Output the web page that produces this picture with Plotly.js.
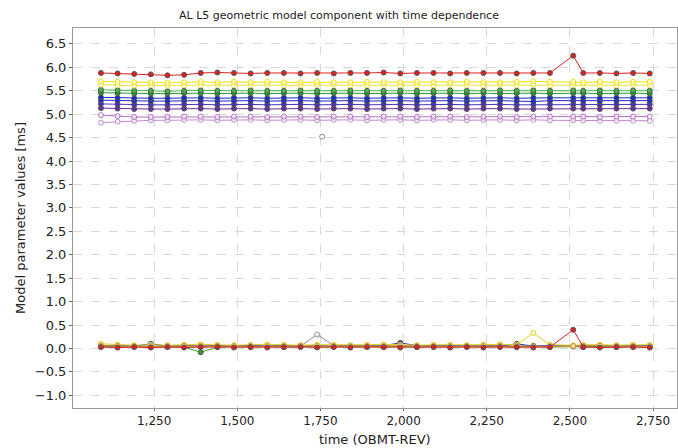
<!DOCTYPE html>
<html><head><meta charset="utf-8">
<script src="https://cdn.plot.ly/plotly-3.0.1.min.js"></script>
<style>body{margin:0;background:#fff}</style></head>
<body><div id="c" style="width:678px;height:448px"></div>
<script>
const times = [1090,1140,1190,1240,1290,1340,1390,1440,1490,1540,1590,1640,1690,1740,1790,1840,1890,1940,1990,2040,2090,2140,2190,2240,2290,2340,2390,2440,2510,2540,2590,2640,2690,2740];
const red1   = [5.88,5.87,5.86,5.85,5.83,5.84,5.88,5.89,5.88,5.87,5.88,5.88,5.87,5.88,5.87,5.88,5.88,5.89,5.87,5.88,5.88,5.87,5.88,5.88,5.88,5.87,5.88,5.88,6.25,5.88,5.88,5.87,5.88,5.87];
const yel1   = [5.70,5.69,5.68,5.68,5.67,5.68,5.69,5.68,5.69,5.68,5.69,5.68,5.68,5.69,5.68,5.68,5.69,5.68,5.68,5.69,5.68,5.68,5.69,5.68,5.68,5.69,5.70,5.69,5.69,5.68,5.69,5.68,5.69,5.69];
const yel2   = [5.63,5.62,5.61,5.62,5.61,5.62,5.62,5.63,5.62,5.62,5.63,5.62,5.62,5.62,5.63,5.62,5.62,5.63,5.62,5.62,5.62,5.63,5.62,5.62,5.63,5.62,5.63,5.62,5.62,5.63,5.62,5.62,5.63,5.62];
const grn1   = [5.52,5.51,5.50,5.50,5.49,5.50,5.51,5.50,5.50,5.51,5.50,5.50,5.51,5.50,5.50,5.51,5.50,5.50,5.51,5.50,5.50,5.51,5.50,5.50,5.51,5.50,5.51,5.50,5.51,5.50,5.51,5.50,5.51,5.50];
const grn2   = [5.46,5.45,5.44,5.44,5.44,5.45,5.45,5.44,5.45,5.45,5.44,5.45,5.45,5.44,5.45,5.45,5.44,5.45,5.45,5.44,5.45,5.45,5.44,5.45,5.44,5.45,5.45,5.44,5.45,5.45,5.44,5.45,5.45,5.44];
const blu1   = [5.36,5.35,5.34,5.34,5.34,5.35,5.35,5.34,5.35,5.35,5.34,5.35,5.35,5.34,5.35,5.35,5.34,5.35,5.35,5.34,5.35,5.35,5.34,5.35,5.35,5.34,5.35,5.35,5.35,5.35,5.34,5.35,5.35,5.35];
const blu2   = [5.30,5.29,5.28,5.28,5.28,5.29,5.29,5.28,5.29,5.29,5.28,5.29,5.29,5.28,5.29,5.29,5.28,5.29,5.29,5.28,5.29,5.29,5.28,5.29,5.29,5.28,5.27,5.29,5.29,5.29,5.28,5.29,5.29,5.29];
const ind1   = [5.22,5.21,5.20,5.20,5.20,5.21,5.21,5.20,5.21,5.21,5.20,5.21,5.21,5.20,5.21,5.21,5.20,5.21,5.21,5.20,5.21,5.21,5.20,5.21,5.21,5.20,5.20,5.21,5.21,5.21,5.20,5.21,5.21,5.21];
const pur1   = [5.13,5.12,5.11,5.11,5.11,5.12,5.12,5.11,5.12,5.12,5.11,5.12,5.12,5.11,5.12,5.12,5.11,5.12,5.12,5.11,5.12,5.12,5.11,5.12,5.12,5.11,5.11,5.12,5.12,5.12,5.11,5.12,5.12,5.12];
const vio1   = [4.98,4.96,4.94,4.94,4.94,4.95,4.95,4.94,4.95,4.95,4.94,4.95,4.95,4.94,4.95,4.95,4.94,4.95,4.95,4.94,4.95,4.95,4.94,4.95,4.95,4.94,4.95,4.95,4.95,4.95,4.94,4.95,4.95,4.95];
const vio2   = [4.82,4.84,4.86,4.87,4.87,4.88,4.88,4.87,4.88,4.88,4.87,4.88,4.88,4.87,4.88,4.88,4.87,4.88,4.88,4.87,4.88,4.88,4.87,4.88,4.88,4.87,4.88,4.87,4.87,4.87,4.86,4.86,4.86,4.86];
const lowRed = [0.03,0.02,0.03,0.02,0.03,0.02,0.03,0.03,0.02,0.03,0.02,0.03,0.03,0.02,0.03,0.02,0.03,0.03,0.02,0.03,0.03,0.02,0.03,0.02,0.03,0.03,0.02,0.03,0.40,0.03,0.02,0.03,0.03,0.02];
const lowYel = [0.10,0.08,0.07,0.08,0.07,0.08,0.09,0.08,0.07,0.08,0.09,0.08,0.07,0.08,0.08,0.07,0.08,0.09,0.08,0.07,0.08,0.08,0.07,0.08,0.09,0.08,0.33,0.08,0.07,0.08,0.08,0.07,0.08,0.08];
const lowOra = [0.06,0.05,0.05,0.04,0.05,0.05,0.06,0.05,0.05,0.04,0.05,0.05,0.06,0.05,0.05,0.04,0.05,0.05,0.06,0.05,0.05,0.04,0.05,0.05,0.06,0.05,0.05,0.04,0.05,0.05,0.06,0.05,0.05,0.04];
const lowGrn = [0.04,0.03,0.04,0.03,0.04,0.03,-0.08,0.03,0.04,0.03,0.04,0.03,0.04,0.03,0.04,0.03,0.04,0.03,0.04,0.03,0.04,0.03,0.04,0.03,0.04,0.03,0.04,0.03,0.04,0.03,0.04,0.03,0.04,0.03];
const lowBlu = [0.05,0.06,0.05,0.10,0.05,0.06,0.05,0.06,0.05,0.06,0.05,0.06,0.05,0.06,0.05,0.06,0.05,0.06,0.12,0.06,0.05,0.06,0.05,0.06,0.05,0.10,0.05,0.06,0.05,0.06,0.05,0.06,0.05,0.06];
const lowGry = [0.07,0.06,0.05,0.06,0.05,0.06,0.05,0.06,0.05,0.06,0.05,0.06,0.05,0.30,0.06,0.05,0.06,0.05,0.06,0.05,0.06,0.05,0.06,0.05,0.06,0.05,0.06,0.05,0.06,0.05,0.06,0.05,0.06,0.05];
const outX = [1755], outY = [4.52];

const specs = [
 [vio2,'#c08ad0',true],[vio1,'#b070c0',true],[pur1,'#6a2aa0',false],[ind1,'#4b2fc0',false],
 [blu2,'#2020e0',false],[blu1,'#1030c8',false],[grn2,'#20a030',false],[grn1,'#40b840',false],
 [yel2,'#e8e040',true],[yel1,'#f0e000',true],[red1,'#e02020',false],
 [lowGry,'#909090',true],[lowBlu,'#2030d0',false],[lowGrn,'#30a030',false],[lowYel,'#e0d020',true],
 [lowOra,'#e09020',true],[lowRed,'#e02020',false]
];
const traces = specs.map(([y,c,open]) => ({
  x: times, y: y, type:'scatter', mode:'lines+markers',
  line:{color:c,width:1},
  marker:{size:5,color: open ? 'rgba(255,255,255,0.6)' : c, line:{color: open ? c : '#555', width:1}},
  showlegend:false, hoverinfo:'skip'
}));
traces.push({x:outX,y:outY,type:'scatter',mode:'markers',marker:{size:5,color:'#fff',line:{color:'#a08080',width:1}},showlegend:false});
Plotly.newPlot('c', traces, {
  width:678, height:448, paper_bgcolor:'#fff', plot_bgcolor:'#fff',
  margin:{l:73,r:1,t:28,b:40},
  font:{family:'DejaVu Sans, sans-serif',size:13,color:'#222'},
  title:{text:'AL L5 geometric model component with time dependence',font:{size:11},x:0.5,xanchor:'center',y:0.975},
  annotations:[{text:'time (OBMT-REV)',xref:'paper',yref:'paper',x:0.5,y:0,yshift:-41,yanchor:'bottom',showarrow:false,font:{size:13}}],
  xaxis:{range:[1006,2822],tickvals:[1250,1500,1750,2000,2250,2500,2750],ticktext:['1,250','1,500','1,750','2,000','2,250','2,500','2,750'],tickfont:{size:12},
    showgrid:true,gridcolor:'#d8d8d8',griddash:'dash',zeroline:false,showline:true,linecolor:'#999',ticks:'outside',ticklen:2,tickcolor:'#666',mirror:true},
  yaxis:{range:[-1.27,6.84],dtick:0.5,tickformat:'.1f',showgrid:true,gridcolor:'#d8d8d8',griddash:'dash',zeroline:false,showline:true,linecolor:'#999',ticks:'outside',ticklen:3,tickcolor:'#666',mirror:true,
    title:{text:'Model parameter values [ms]',font:{size:13},standoff:6}}
},{staticPlot:true});
</script></body></html>
